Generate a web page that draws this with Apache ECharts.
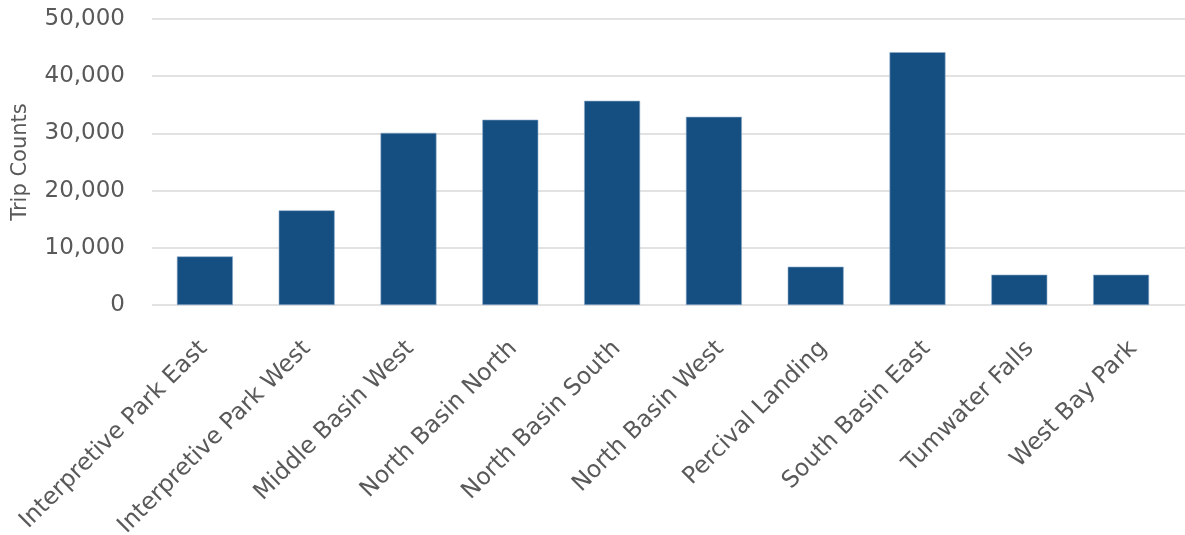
<!DOCTYPE html>
<html>
<head>
<meta charset="utf-8">
<script src="https://cdn.jsdelivr.net/npm/echarts@6/dist/echarts.min.js"></script>
<style>
html,body{margin:0;padding:0;background:#fff;}
#chart{width:1185px;height:535px;}
</style>
</head>
<body>
<div id="chart"></div>
<script>
const categories = ["Interpretive Park East","Interpretive Park West","Middle Basin West","North Basin North","North Basin South","North Basin West","Percival Landing","South Basin East","Tumwater Falls","West Bay Park"];
const tripCounts = [8500, 16550, 30100, 32400, 35700, 32900, 6700, 44200, 5300, 5300];
const yTicks = [0, 10000, 20000, 30000, 40000, 50000];

const chart = echarts.init(document.getElementById('chart'));
const font = '"DejaVu Sans", "Noto Sans", sans-serif';
const yMin = yTicks[0], yMax = yTicks[yTicks.length - 1], yStep = yTicks[1] - yTicks[0];
chart.setOption({
  animation: false,
  grid: [
    {left: 154, right: 13, top: 19, bottom: 230, containLabel: false, outerBoundsMode: 'none'},
    {left: 152, right: 0, top: 19, bottom: 230, containLabel: false, outerBoundsMode: 'none'}
  ],
  xAxis: [{
    type: 'category',
    gridIndex: 0,
    data: categories,
    axisLine: {show: false},
    axisTick: {show: false},
    axisLabel: {show: false}
  }, {
    type: 'category',
    gridIndex: 1,
    data: categories,
    axisLine: {show: false},
    axisTick: {show: false},
    axisLabel: {rotate: 45, interval: 0, color: '#595959', fontSize: 23.5, fontFamily: font, margin: 40}
  }],
  yAxis: [{
    type: 'value',
    gridIndex: 0,
    min: yMin, max: yMax, interval: yStep,
    name: 'Trip Counts',
    nameLocation: 'middle',
    nameGap: 123,
    nameTextStyle: {color: '#595959', fontSize: 21, fontFamily: font},
    axisLine: {show: false},
    axisTick: {show: false},
    splitLine: {show: false},
    axisLabel: {
      color: '#595959', fontSize: 23, fontFamily: font, margin: 29,
      formatter: v => v.toLocaleString('en-US')
    }
  }, {
    type: 'value',
    gridIndex: 1,
    min: yMin, max: yMax, interval: yStep,
    axisLine: {show: false},
    axisTick: {show: false},
    axisLabel: {show: false},
    splitLine: {lineStyle: {color: '#d9d9d9', width: 1.5}}
  }],
  series: [{
    type: 'bar',
    xAxisIndex: 0, yAxisIndex: 0,
    data: tripCounts,
    barCategoryGap: '45%',
    itemStyle: {color: '#154F82', borderColor: '#8eaccb', borderWidth: 0.6}
  }]
});
</script>
</body>
</html>
